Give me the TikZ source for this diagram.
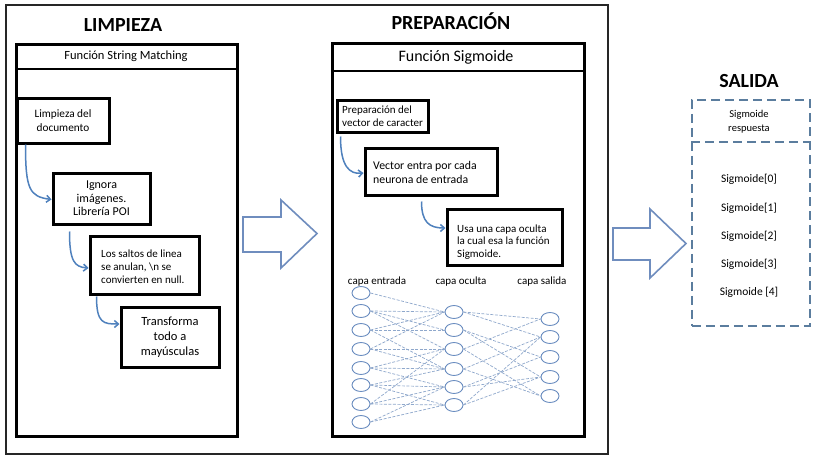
\documentclass[tikz,border=0pt]{standalone}
\usepackage{fontspec}
\setmainfont{Carlito}
\usetikzlibrary{shapes.geometric,arrows.meta,calc}
\definecolor{flowblue}{HTML}{4F81BD}
\definecolor{arrowblue}{HTML}{6F8DBE}
\definecolor{netblue}{HTML}{6A8DC0}
\definecolor{linkblue}{HTML}{8FA8CC}
\definecolor{dashblue}{HTML}{5B7D9E}
\tikzset{
  frame/.style={draw=black!85, line width=2pt},
  container/.style={draw=black, line width=3pt, anchor=north west, inner sep=0pt},
  divider/.style={draw=black, line width=2.5pt},
  title/.style={font=\bfseries\fontsize{20}{22}\selectfont},
  stepbox/.style={draw=black, line width=3pt, fill=white, inner sep=2pt},
  boxtext/.style={align=left, inner sep=0pt, anchor=west},
  flow/.style={draw=flowblue, line width=1.5pt, -{Straight Barb[length=4pt,width=7pt]}},
  hollow/.style={draw=arrowblue, line width=1.6pt, fill=white, line join=miter},
  neuron/.style={ellipse, draw=netblue, line width=0.9pt, minimum width=18pt, minimum height=13pt, inner sep=0pt},
  link/.style={draw=linkblue, line width=0.7pt, dash pattern=on 3pt off 1.5pt},
  outbox/.style={draw=dashblue, line width=1.8pt, dash pattern=on 9pt off 5pt},
  netlabel/.style={font=\fontsize{11}{12}\selectfont},
}
\begin{document}
\begin{tikzpicture}[x=1pt,y=-1pt]
\useasboundingbox (0,0) rectangle (817,463);
\fill[white] (0,0) rectangle (817,463);
% outer frame
\node[frame, anchor=north west, minimum width=602pt, minimum height=449pt, inner sep=0pt] (outer) at (5,4) {};

% ---------- LIMPIEZA ----------
\node[title] (tlimp) at (123,25) {LIMPIEZA};
\node[container, minimum width=221pt, minimum height=392pt] (limp) at (15,43) {};
\draw[divider] ([yshift=-26pt]limp.north west) -- ([yshift=-26pt]limp.north east);
\node[font=\fontsize{12.5}{14}\selectfont] (hlimp) at (126,56) {Función String Matching};

\node[stepbox, minimum width=92pt, minimum height=45pt, align=center, font=\fontsize{11.3}{14}\selectfont] (b1) at (63,120.5) {Limpieza del\\documento};
\node[stepbox, minimum width=97pt, minimum height=51pt, align=center, font=\fontsize{12}{13.5}\selectfont] (b2) at (101.5,198.5) {Ignora\\imágenes.\\Librería POI};
\node[stepbox, minimum width=109pt, minimum height=58pt] (b3) at (144.5,265) {};
\node[boxtext, font=\fontsize{11}{13}\selectfont] (b3t) at (101,267) {Los saltos de linea\\se anulan, \textbackslash n se\\convierten en null.};
\node[stepbox, minimum width=98pt, minimum height=60pt, align=center, font=\fontsize{12.5}{15}\selectfont] (b4) at (170,337) {Transforma\\todo a\\mayúsculas};

\draw[flow] ([xshift=10pt]b1.south west) .. controls ([xshift=10pt,yshift=-45pt]b1.south west) and ([xshift=-22pt,yshift=2pt]b2.west) .. ([yshift=-1pt]b2.west);
\draw[flow] ([xshift=18pt,yshift=-6pt]b2.south west) .. controls ([xshift=18pt,yshift=-36pt]b2.south west) and ([xshift=-14pt,yshift=-2pt]b3.west) .. ([yshift=-3pt]b3.west);
\draw[flow] ([xshift=8pt,yshift=-1pt]b3.south west) .. controls ([xshift=8pt,yshift=-28pt]b3.south west) and ([xshift=-16pt,yshift=13pt]b4.west) .. ([yshift=13pt]b4.west);

% hollow arrow 1
\draw[hollow] (243,217) -- (281,217) -- (281,200) -- (317,233.5) -- (281,268) -- (281,252) -- (243,252) -- cycle;

% ---------- PREPARACION ----------
\node[title] (tprep) at (451,21) {PREPARACIÓN};
\node[container, minimum width=252pt, minimum height=393pt] (prep) at (331,42) {};
\draw[divider] ([yshift=-29pt]prep.north west) -- ([yshift=-29pt]prep.north east);
\node[font=\fontsize{16}{18}\selectfont] (hprep) at (456,57) {Función Sigmoide};

\node[stepbox, minimum width=91pt, minimum height=32pt] (b5) at (382.5,116) {};
\node[boxtext, font=\fontsize{11}{13}\selectfont] (b5t) at (342,116) {Preparación del\\vector de caracter};
\node[stepbox, minimum width=132pt, minimum height=47pt] (b6) at (431,171.5) {};
\node[boxtext, font=\fontsize{11.8}{13.5}\selectfont] (b6t) at (373,172.5) {Vector entra por cada\\neurona de entrada};
\node[stepbox, minimum width=115pt, minimum height=56pt] (b7) at (504.5,237) {};
\node[boxtext, font=\fontsize{11}{12.5}\selectfont] (b7t) at (457,242) {Usa una capa oculta\\la cual esa la función\\Sigmoide.};

\draw[flow] ([xshift=5pt,yshift=-3pt]b5.south west) .. controls ([xshift=5pt,yshift=-33pt]b5.south west) and ([xshift=-14pt,yshift=-3pt]b6.west) .. ([yshift=-1.5pt]b6.west);
\draw[flow] ([xshift=58pt,yshift=-5pt]b6.south west) .. controls ([xshift=58pt,yshift=-26pt]b6.south west) and ([xshift=-16pt,yshift=9pt]b7.west) .. ([yshift=9pt]b7.west);

% neural net labels
\node[netlabel] (lin) at (377,282) {capa entrada};
\node[netlabel] (lhid) at (461,282) {capa oculta};
\node[netlabel] (lout) at (542,282) {capa salida};

% neurons
\foreach \y [count=\i from 0] in {293,311,330,349,368,385,404,422}
  \node[neuron] (I\i) at (361,\y) {};
\foreach \y [count=\i from 0] in {312,330,349,369,387,405}
  \node[neuron] (H\i) at (454,\y) {};
\foreach \y [count=\i from 0] in {319,337,357,377,396}
  \node[neuron] (O\i) at (550,\y) {};

% links input -> hidden
\foreach \a/\b in {0/0,1/0,1/1,1/2,2/0,2/1,2/3,3/0,3/2,3/3,4/2,4/3,4/4,5/3,5/4,5/5,6/2,6/5,6/4,7/4,7/5}
  \draw[link] (I\a.east) -- (H\b.west);
% links hidden -> output
\foreach \a/\b in {0/0,0/1,1/2,1/3,2/0,2/4,3/1,3/4,4/2,4/3,5/1,5/3}
  \draw[link] (H\a.east) -- (O\b.west);

% hollow arrow 2
\draw[hollow] (613,228) -- (650,228) -- (650,209) -- (686,243.5) -- (650,278) -- (650,260) -- (613,260) -- cycle;

% ---------- SALIDA ----------
\node[title] (tsal) at (749,81) {SALIDA};
\node[outbox, anchor=north west, minimum width=118pt, minimum height=226pt, inner sep=0pt] (sal) at (691,99) {};
\draw[outbox] ([yshift=-43pt]sal.north west) -- ([yshift=-43pt]sal.north east);
\node[align=center, font=\fontsize{10.5}{13.5}\selectfont] (hsal) at (749,121.5) {Sigmoide\\respuesta};
\foreach \y/\t [count=\i from 0] in {179/{Sigmoide[0]},208/{Sigmoide[1]},236/{Sigmoide[2]},264/{Sigmoide[3]},292/{Sigmoide [4]}}
  \node[font=\fontsize{11.5}{13}\selectfont] (s\i) at (749,\y) {\t};
\end{tikzpicture}
\end{document}
